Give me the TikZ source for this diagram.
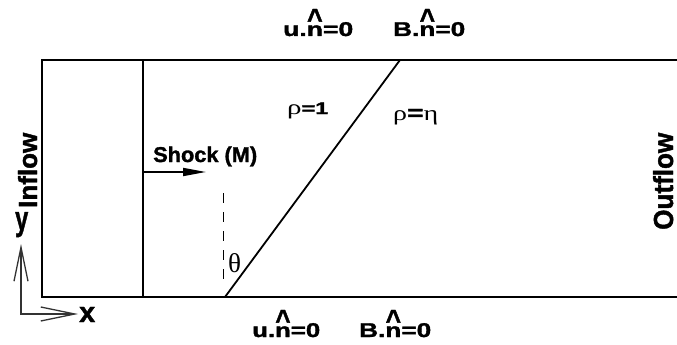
\documentclass[tikz,border=0pt]{standalone}
\usepackage{fontspec}
\usepackage{graphicx}
\setmainfont{Liberation Sans}[BoldFeatures={FakeBold=1.5}]
\newfontfamily\grk{Liberation Serif}
\usetikzlibrary{arrows.meta}
\newcommand\nh{\makebox[0pt][l]{\makebox[0.611em][c]{\raisebox{0.36em}{\scalebox{1}[1.45]{\textasciicircum}}}}n}
\begin{document}
\begin{tikzpicture}[x=1pt,y=-1pt,
  lbl/.style={inner sep=0pt, anchor=base west},
  wall/.style={line width=1.8pt, line cap=rect},
  axis/.style={line width=1.3pt, draw=black!80},
  axbarb/.tip={Straight Barb[length=34pt,width=14pt]}]
\useasboundingbox (0,0) rectangle (677,345);
% box
\coordinate (tl) at (42,60); \coordinate (tr) at (678,60);
\coordinate (bl) at (42,297); \coordinate (br) at (678,297);
\draw[wall] (tr) -- (tl) -- (bl) -- (br);
% shock
\coordinate (st) at (143,60); \coordinate (sb) at (143,297);
\draw[wall] (st) -- (sb);
% contact
\coordinate (ct) at (400,60); \coordinate (cb) at (225,297);
\draw[wall, line cap=butt] (cb) -- (ct);
% dashed vertical
\coordinate (dt) at (223,193); \coordinate (db) at (223,283);
\draw[line width=1pt, dash pattern=on 10pt off 9pt] (dt) -- (db);
% shock arrow
\coordinate (sa) at (143,172); \coordinate (se) at (206,172);
\draw[line width=1.8pt, -{Triangle[length=23pt,width=8pt]}] (sa) -- (se);
% axes
\coordinate (o) at (21,314); \coordinate (xe) at (78,314); \coordinate (ye) at (21,244);
\draw[axis, axbarb-axbarb] (ye) -- (o) -- (xe);
% labels
\node[lbl] (tu) at (283,36) {\resizebox{70pt}{27pt}{\bfseries u.\nh=0}};
\node[lbl] (tb) at (393,36) {\resizebox{72pt}{27pt}{\bfseries B.\nh=0}};
\node[lbl] (bu) at (252,337) {\resizebox{68pt}{27pt}{\bfseries u.\nh=0}};
\node[lbl] (bb) at (359,337) {\resizebox{72pt}{27pt}{\bfseries B.\nh=0}};
\node[lbl] (r1) at (287,114) {\resizebox{41pt}{11.5pt}{\scalebox{1.25}{\grk ρ}\bfseries=1}};
\node[lbl] (r2) at (393,120) {\resizebox{45pt}{11pt}{{\grk ρ}\bfseries={\grk\mdseries η}}};
\node[lbl] (sh) at (153,162) {\resizebox{104pt}{15.5pt}{\bfseries Shock (M)}};
\node[lbl] (th) at (228,272) {\resizebox{13pt}{19pt}{\grk θ}};
\node[lbl] (xl) at (79,322) {\resizebox{16pt}{15pt}{\bfseries x}};
\node[inner sep=0pt, anchor=north west] (yl) at (15,212) {\resizebox*{13pt}{25pt}{\bfseries y}};
\node[lbl, rotate=90] (in) at (37,208) {\resizebox{75pt}{19pt}{\bfseries Inflow}};
\node[lbl, rotate=90] (out) at (673,230) {\resizebox{97pt}{20pt}{\bfseries Outflow}};
\end{tikzpicture}
\end{document}
